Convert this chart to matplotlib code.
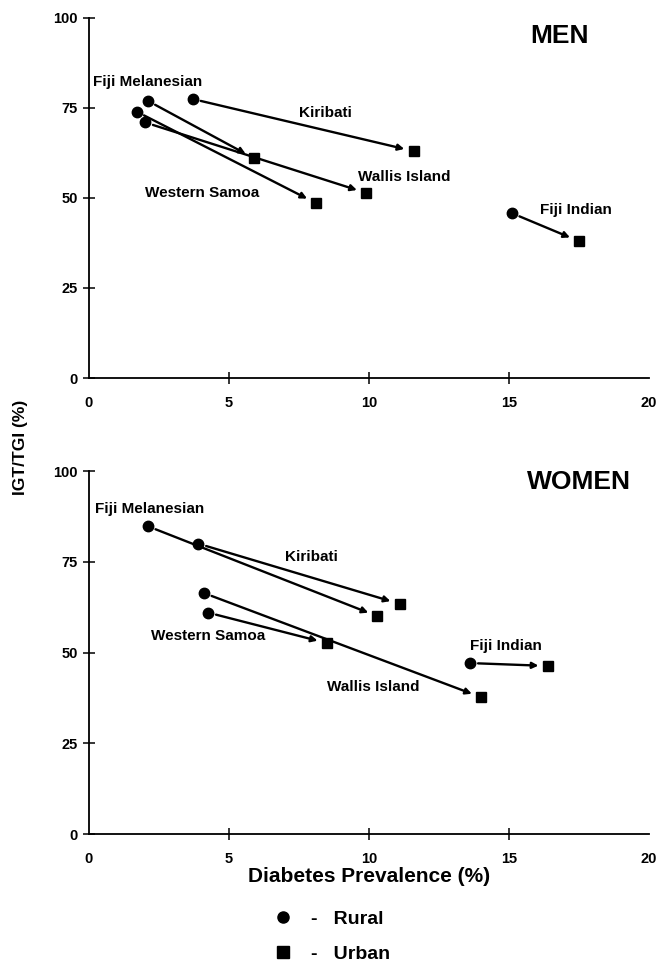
import matplotlib
matplotlib.use("Agg")
import matplotlib.pyplot as plt
from matplotlib.lines import Line2D

plt.rcParams["font.family"] = ["Liberation Sans", "DejaVu Sans"]
plt.rcParams["font.weight"] = "bold"

COUNTRIES = ["Fiji Melanesian", "Kiribati", "Western Samoa", "Wallis Island", "Fiji Indian"]

# men: rural -> urban (diabetes prevalence %, IGT/TGI %)
men_rural_x = [2.1, 3.7, 1.7, 2.0, 15.1]
men_rural_y = [77.0, 77.5, 74.0, 71.0, 45.8]
men_urban_x = [5.9, 11.6, 8.1, 9.9, 17.5]
men_urban_y = [61.0, 63.0, 48.6, 51.4, 38.0]

# women
women_rural_x = [2.1, 3.9, 4.25, 4.1, 13.6]
women_rural_y = [84.8, 80.0, 61.0, 66.4, 47.1]
women_urban_x = [10.3, 11.1, 8.5, 14.0, 16.4]
women_urban_y = [60.0, 63.4, 52.6, 37.7, 46.3]

# label anchor points (left edge, centre line)
men_label_x = [0.15, 7.5, 2.0, 9.6, 16.1]
men_label_y = [82.2, 73.6, 51.4, 55.8, 46.7]
women_label_x = [0.2, 7.0, 2.2, 8.5, 13.6]
women_label_y = [89.5, 76.3, 54.5, 40.5, 51.8]

X_TICKS = [0, 5, 10, 15, 20]
Y_TICKS = [0, 25, 50, 75, 100]


def style_axes(ax):
    ax.set_xlim(0, 20)
    ax.set_ylim(0, 100)
    for side in ("top", "right"):
        ax.spines[side].set_visible(False)
    for side in ("left", "bottom"):
        ax.spines[side].set_linewidth(1.3)
    ax.set_xticks(X_TICKS)
    ax.set_yticks(Y_TICKS)
    ax.tick_params(direction="inout", length=8, width=1.1, labelsize=10.5)
    ax.tick_params(axis="x", pad=9)
    ax.tick_params(axis="y", pad=4)
    ax.xaxis.get_major_ticks()[-1].tick1line.set_visible(False)
    ax.xaxis.get_major_ticks()[0].tick1line.set_visible(False)
    for lab in ax.get_xticklabels() + ax.get_yticklabels():
        lab.set_fontweight("bold")


def draw_panel(ax, rx, ry, ux, uy, lx, ly, title, title_xy):
    for i in range(len(rx)):
        ax.annotate("", xy=(ux[i], uy[i]), xytext=(rx[i], ry[i]),
                    arrowprops=dict(arrowstyle="-|>", color="black", lw=1.7,
                                    mutation_scale=9, shrinkA=6, shrinkB=7))
    ax.plot(rx, ry, "o", color="black", ms=7.5, ls="none", zorder=3)
    ax.plot(ux, uy, "s", color="black", ms=7, ls="none", zorder=3)
    for name, x, y in zip(COUNTRIES, lx, ly):
        ax.text(x, y, name, fontsize=11, fontweight="bold", ha="left", va="center")
    ax.text(title_xy[0], title_xy[1], title, fontsize=19, fontweight="bold",
            ha="center", va="center")
    style_axes(ax)


fig = plt.figure(figsize=(6.63, 9.67), dpi=100)
ax1 = fig.add_axes([0.1342, 0.6091, 0.8446, 0.3723])
ax2 = fig.add_axes([0.1342, 0.1375, 0.8446, 0.3754])

draw_panel(ax1, men_rural_x, men_rural_y, men_urban_x, men_urban_y,
           men_label_x, men_label_y, "MEN", (16.8, 95))
draw_panel(ax2, women_rural_x, women_rural_y, women_urban_x, women_urban_y,
           women_label_x, women_label_y, "WOMEN", (17.5, 97))

ax2.set_xlabel("Diabetes Prevalence (%)", fontsize=15, fontweight="bold", labelpad=1)
fig.text(21 / 663, 1 - 447 / 967, "IGT/TGI (%)", rotation=90, fontsize=12.5,
         fontweight="bold", ha="center", va="center")

handles = [Line2D([], [], marker="o", ls="none", color="black", ms=8),
           Line2D([], [], marker="s", ls="none", color="black", ms=8)]
fig.legend(handles, ["-   Rural", "-   Urban"], loc="upper left",
           bbox_to_anchor=(262 / 663, 1 - 899 / 967), frameon=False,
           prop=dict(size=14, weight="bold"), labelspacing=0.88,
           handletextpad=0.9, handlelength=1.0, borderaxespad=0.2)

fig.savefig("out.png", dpi=100, facecolor="white")
